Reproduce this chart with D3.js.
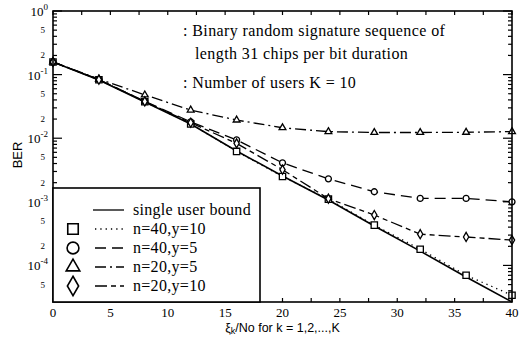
<!DOCTYPE html>
<html>
<head>
<meta charset="utf-8">
<script src="https://cdn.jsdelivr.net/npm/d3@7"></script>
<style>
  body { margin: 0; background: #fff; }
  text { fill: #000; }
</style>
</head>
<body>
<div id="chart"></div>
<script>
// values (BER vs xi_k/No)
var xVals = [0, 4, 8, 12, 16, 20, 24, 28, 32, 36, 40];
var singleUser = [0.158, 0.0822, 0.0371, 0.0167, 0.0063, 0.00255, 0.00107, 0.000416, 0.000168, 0.0000657, 0.0000266];
var n40y10 = [0.158, 0.083, 0.0375, 0.0168, 0.0062, 0.0025, 0.0011, 0.00043, 0.00018, 0.00007, 0.000034];
var n40y5 = [0.158, 0.084, 0.038, 0.0181, 0.0094, 0.0041, 0.0023, 0.00144, 0.00113, 0.00113, 0.00100];
var n20y5 = [0.158, 0.085, 0.048, 0.0277, 0.0193, 0.0146, 0.0127, 0.0123, 0.0123, 0.0124, 0.0127];
var n20y10 = [0.158, 0.083, 0.0378, 0.0175, 0.0083, 0.0032, 0.00112, 0.00062, 0.00031, 0.00028, 0.00025];

var xTickLabels = [0, 5, 10, 15, 20, 25, 30, 35, 40];
var decades = [0, -1, -2, -3, -4];
var legendLabels = ["single user bound", "n=40,y=10", "n=40,y=5", "n=20,y=5", "n=20,y=10"];
var noteLines = [": Binary random signature sequence of", "length 31 chips per bit duration", ": Number of users K = 10"];

(function() {
    var width = 522, height = 337;
    var left = 53, right = 512, top = 11, bottom = 302;

    var svg = d3.select("#chart").append("svg")
        .attr("width", width)
        .attr("height", height)
        .style("background", "#fff");

    var x = d3.scaleLinear().domain([0, 40]).range([left, right]);
    var y = d3.scaleLog().domain([Math.pow(10, -4.575), 1]).range([bottom, top]);

    var series = [
        { name: legendLabels[0], vals: singleUser, dash: null, mark: null },
        { name: legendLabels[1], vals: n40y10, dash: "1.3,4", mark: "square" },
        { name: legendLabels[2], vals: n40y5, dash: "11,6", mark: "circle" },
        { name: legendLabels[3], vals: n20y5, dash: "11,4,2,4", mark: "triangle" },
        { name: legendLabels[4], vals: n20y10, dash: "12,4,5,4", mark: "diamond" }
    ];

    var symType = { square: d3.symbolSquare, circle: d3.symbolCircle, triangle: d3.symbolTriangle, diamond: d3.symbolDiamond };

    // minor/major ticks on left and right
    var yTicks = [];
    decades.forEach(function(k) {
        for (var m = 1; m < 10; m++) {
            var v = m * Math.pow(10, k - 1);
            if (v >= y.domain()[0] && v <= 1) yTicks.push({ v: v, major: m === 1 });
        }
    });
    yTicks.push({ v: 1, major: true });

    svg.selectAll(".ytl").data(yTicks).enter().append("line")
        .attr("x1", left).attr("x2", function(d) { return left + (d.major ? 9 : 4); })
        .attr("y1", function(d) { return y(d.v); }).attr("y2", function(d) { return y(d.v); })
        .attr("stroke", "#000").attr("stroke-width", 1.2);
    svg.selectAll(".ytr").data(yTicks).enter().append("line")
        .attr("x1", right).attr("x2", function(d) { return right - (d.major ? 9 : 4); })
        .attr("y1", function(d) { return y(d.v); }).attr("y2", function(d) { return y(d.v); })
        .attr("stroke", "#000").attr("stroke-width", 1.2);

    var xTicks = d3.range(0, 40.1, 2.5);
    svg.selectAll(".xtb").data(xTicks).enter().append("line")
        .attr("x1", function(d) { return x(d); }).attr("x2", function(d) { return x(d); })
        .attr("y1", bottom).attr("y2", bottom - 4)
        .attr("stroke", "#000").attr("stroke-width", 1.2);
    svg.selectAll(".xtt").data(xTicks).enter().append("line")
        .attr("x1", function(d) { return x(d); }).attr("x2", function(d) { return x(d); })
        .attr("y1", top).attr("y2", top + 4)
        .attr("stroke", "#000").attr("stroke-width", 1.2);

    // y tick labels
    var decLab = svg.selectAll(".dec").data(decades).enter().append("text")
        .attr("x", 48).attr("y", function(d) { return y(Math.pow(10, d)) + 5; })
        .attr("text-anchor", "end")
        .style("font-family", "Liberation Serif, serif").style("font-size", "13px");
    decLab.append("tspan").text("10");
    decLab.append("tspan").attr("dy", -6).style("font-size", "9px").text(function(d) { return d; });

    var smallLabs = [];
    decades.forEach(function(k) {
        [5, 2].forEach(function(m) {
            var v = m * Math.pow(10, k - 1);
            if (v >= y.domain()[0]) smallLabs.push({ v: v, m: m });
        });
    });
    svg.selectAll(".sml").data(smallLabs).enter().append("text")
        .attr("x", 45).attr("y", function(d) { return y(d.v) + 3; })
        .attr("text-anchor", "end")
        .style("font-family", "Liberation Serif, serif").style("font-size", "9px")
        .text(function(d) { return d.m; });

    // x tick labels
    svg.selectAll(".xl").data(xTickLabels).enter().append("text")
        .attr("x", function(d) { return x(d); }).attr("y", 317)
        .attr("text-anchor", "middle")
        .style("font-family", "Liberation Serif, serif").style("font-size", "13px")
        .text(function(d) { return d; });

    var xt = svg.append("text").attr("x", x(20)).attr("y", 332).attr("text-anchor", "middle")
        .style("font-family", "Liberation Sans, Arial, sans-serif").style("font-size", "12.5px");
    xt.append("tspan").text("ξ");
    xt.append("tspan").attr("dy", 2).style("font-size", "9px").text("k");
    xt.append("tspan").attr("dy", -2).text("/No for k = 1,2,...,K");

    svg.append("text").attr("transform", "translate(22,155) rotate(-90)")
        .attr("text-anchor", "middle")
        .style("font-family", "Liberation Sans, Arial, sans-serif").style("font-size", "13px")
        .text("BER");

    // curves
    var line = d3.line()
        .x(function(d, i) { return x(xVals[i]); })
        .y(function(d) { return y(d); });

    svg.selectAll(".curve").data(series).enter().append("path")
        .attr("d", function(d) { return line(d.vals); })
        .attr("fill", "none").attr("stroke", "#000")
        .attr("stroke-width", function(d) { return d.dash ? 1.3 : 1.6; })
        .attr("stroke-dasharray", function(d) { return d.dash; });

    var marks = [];
    series.forEach(function(s) {
        if (!s.mark) return;
        s.vals.forEach(function(v, i) { marks.push({ x: xVals[i], v: v, mark: s.mark }); });
    });
    var smallSize = { square: 40, circle: 28, triangle: 20, diamond: 24 };
    svg.selectAll(".mk").data(marks).enter().append("path")
        .attr("transform", function(d) { return "translate(" + x(d.x) + "," + y(d.v) + ")"; })
        .attr("d", function(d) { return d3.symbol().type(symType[d.mark]).size(smallSize[d.mark])(); })
        .attr("fill", "#fff").attr("stroke", "#000").attr("stroke-width", 1.3);

    // frame
    svg.append("rect").attr("x", left).attr("y", top)
        .attr("width", right - left).attr("height", bottom - top)
        .attr("fill", "none").attr("stroke", "#000").attr("stroke-width", 1.6);

    // notes
    svg.selectAll(".note").data(noteLines).enter().append("text")
        .attr("x", function(d, i) { return i === 1 ? 195 : 183; })
        .attr("y", function(d, i) { return [36, 59, 88][i]; })
        .style("font-family", "Liberation Serif, serif").style("font-size", "16px")
        .style("letter-spacing", "0.4px")
        .text(function(d) { return d; });

    // legend
    var lg = svg.append("g");
    lg.append("rect").attr("x", left).attr("y", 188)
        .attr("width", 260 - left).attr("height", bottom - 188)
        .attr("fill", "#fff").attr("stroke", "#000").attr("stroke-width", 1.6);
    var rows = lg.selectAll(".row").data(series).enter().append("g")
        .attr("transform", function(d, i) { return "translate(0," + (210 + i * 19) + ")"; });
    rows.append("line").attr("x1", function(d) { return d.dash ? 95 : 93; }).attr("x2", 124)
        .attr("y1", 0).attr("y2", 0)
        .attr("stroke", "#000").attr("stroke-width", 1.3)
        .attr("stroke-dasharray", function(d) { return d.dash; });
    rows.filter(function(d) { return d.mark; }).append("path")
        .attr("transform", "translate(73,0)")
        .attr("d", function(d) { return d3.symbol().type(symType[d.mark]).size(d.mark === "triangle" ? 80 : 110)(); })
        .attr("fill", "#fff").attr("stroke", "#000").attr("stroke-width", 1.6);
    rows.append("text").attr("x", 133).attr("y", 5)
        .style("font-family", "Liberation Serif, serif").style("font-size", "16px")
        .style("letter-spacing", "0.3px")
        .text(function(d) { return d.name; });
})();
</script>
</body>
</html>
